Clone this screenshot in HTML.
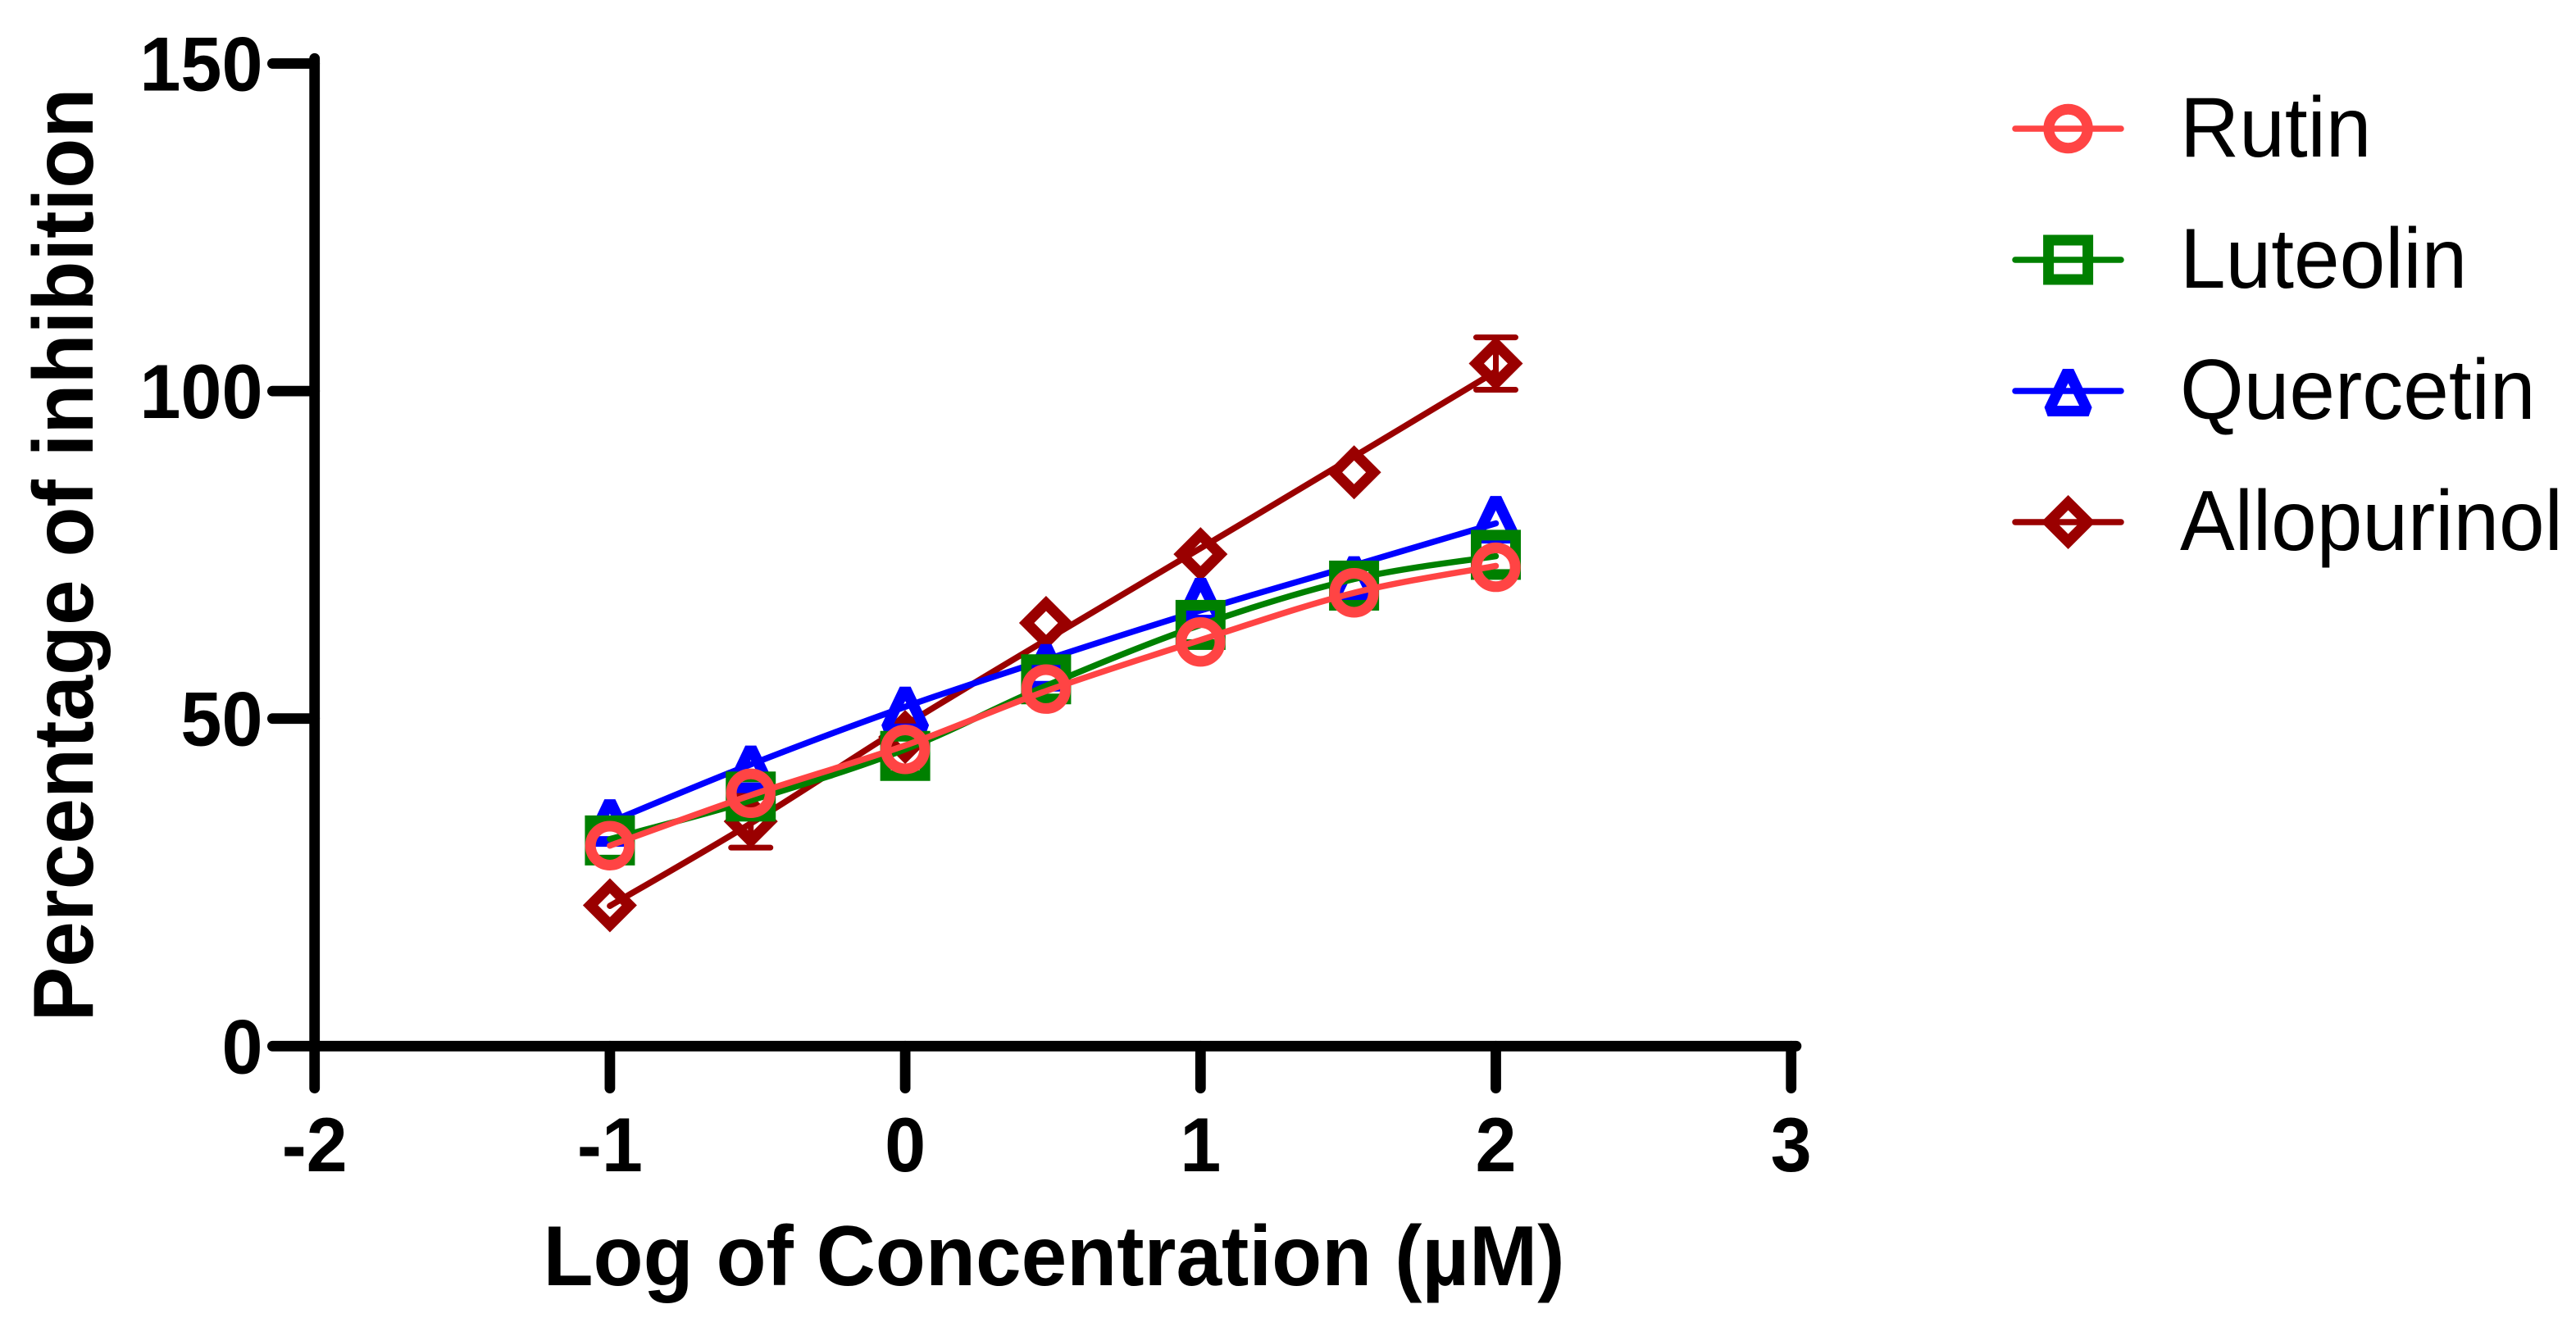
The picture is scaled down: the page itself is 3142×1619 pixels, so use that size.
<!DOCTYPE html>
<html lang="en">
<head>
<meta charset="utf-8">
<title>Percentage of inhibition vs Log of Concentration</title>
<style>
  html, body { margin: 0; padding: 0; background: #ffffff; }
  svg { display: block; font-family: "Liberation Sans", Arial, sans-serif; }
</style>
</head>
<body>
<svg id="chart" xmlns="http://www.w3.org/2000/svg" width="3142" height="1619" viewBox="0 0 3142 1619">
  <rect x="0" y="0" width="3142" height="1619" fill="#ffffff"/>
  <g id="axes"></g>
  <g id="series"></g>
  <text transform="translate(113 677) rotate(-90) scale(1 1.035)" text-anchor="middle" font-size="100" font-weight="700" fill="#000000">Percentage of inhibition</text>
  <text transform="translate(1285.5 1568) scale(1 1.035)" text-anchor="middle" font-size="100" font-weight="700" fill="#000000">Log of Concentration (µM)</text>
  <g id="legend">
    <text transform="translate(2659 191) scale(1 1.035)" font-size="100" fill="#000000">Rutin</text>
    <text transform="translate(2659 351) scale(1 1.035)" font-size="100" fill="#000000">Luteolin</text>
    <text transform="translate(2659 511) scale(1 1.035)" font-size="100" fill="#000000">Quercetin</text>
    <text transform="translate(2659 671) scale(1 1.035)" font-size="100" fill="#000000">Allopurinol</text>
  </g>
</svg>
<script>
// ---- Data ----
const logConcentration = [-1, -0.523, 0, 0.477, 1, 1.52, 2];

const rutinValues       = [30.6, 38.6, 45.3, 54.5, 61.7, 69.2, 73.1];
const luteolinValues    = [31.4, 38.1, 44.3, 56.0, 64.3, 70.3, 75.0];
const quercetinValues   = [34.3, 42.5, 51.5, 58.0, 68.1, 71.4, 80.6];
const allopurinolValues = [21.5, 34.3, 47.2, 64.6, 75.1, 87.6, 104.2];

const rutinCurve       = [30.6, 38.3, 45.9, 54.2, 62.0, 69.2, 73.3];
const luteolinCurve    = [31.6, 37.5, 45.3, 55.0, 64.3, 71.3, 74.8];
const quercetinCurve   = [34.2, 43.0, 51.8, 59.0, 66.5, 73.4, 79.8];
const allopurinolCurve = [21.4, 34.0, 49.0, 62.0, 76.0, 90.0, 103.0];

const allopurinolErrors = [0, 4, 0, 0, 0, 0, 4];

const xTickValues = [-2, -1, 0, 1, 2, 3];
const yTickValues = [0, 50, 100, 150];

// ---- Axis functions ----
const NS = 'http://www.w3.org/2000/svg';
const X_ORIGIN = 383.7, X_UNIT = 360.2, X_MIN = -2;
const Y_ORIGIN = 1276.3, Y_UNIT = 7.992;
const AXIS_WIDTH = 12.8;
function xScale(v) { return X_ORIGIN + (v - X_MIN) * X_UNIT; }
function yScale(v) { return Y_ORIGIN - v * Y_UNIT; }

function make(tag, attrs) {
  const el = document.createElementNS(NS, tag);
  for (const k in attrs) el.setAttribute(k, attrs[k]);
  return el;
}

// ---- Axes ----
const axes = document.getElementById('axes');

const yAxisLine = make('line', { x1: xScale(-2), x2: xScale(-2), y1: yScale(150) - 6.2, y2: yScale(0), stroke: '#000', 'stroke-width': AXIS_WIDTH, 'stroke-linecap': 'round' });


axes.appendChild(yAxisLine);

const xAxisLine = make('line', { x1: xScale(-2), x2: xScale(3) + 6.2, y1: yScale(0), y2: yScale(0), stroke: '#000', 'stroke-width': AXIS_WIDTH, 'stroke-linecap': 'round' });


axes.appendChild(xAxisLine);

yTickValues.forEach(function (v) {
  const y = yScale(v);
  const tick = make('line', { x1: 332.4, x2: xScale(-2), y1: y, y2: y, stroke: '#000', 'stroke-width': AXIS_WIDTH, 'stroke-linecap': 'round' });
  
  
  axes.appendChild(tick);
  const label = make('text', { transform: 'translate(320.5 ' + (y + 33) + ') scale(1 1.04)', 'text-anchor': 'end', 'font-size': 90, 'font-weight': 700, fill: '#000' });
  label.textContent = String(v);
  
  
  axes.appendChild(label);
});

xTickValues.forEach(function (v) {
  const x = xScale(v);
  const tick = make('line', { x1: x, x2: x, y1: Y_ORIGIN, y2: 1327.6, stroke: '#000', 'stroke-width': AXIS_WIDTH, 'stroke-linecap': 'round' });
  
  
  axes.appendChild(tick);
  const label = make('text', { transform: 'translate(' + x + ' 1429) scale(1 1.04)', 'text-anchor': 'middle', 'font-size': 90, 'font-weight': 700, fill: '#000' });
  label.textContent = String(v);
  
  
  axes.appendChild(label);
});

// ---- Marker shapes ----
function drawMarker(shape, color, cx, cy) {
  let el;
  if (shape === 'circle') {
    el = make('circle', { cx: cx, cy: cy, r: 23.7, fill: 'none', stroke: color, 'stroke-width': 13 });
  } else if (shape === 'square') {
    el = make('rect', { x: cx - 24, y: cy - 24, width: 48, height: 48, fill: 'none', stroke: color, 'stroke-width': 13 });
  } else if (shape === 'triangle') {
    const d = 'M-6.6 -27L6.6 -27L29 20L25 31L-25 31L-29 20Z M0 -9.5L-13.5 18L13.5 18Z';
    el = make('path', { d: d, transform: 'translate(' + cx + ' ' + cy + ')', fill: color, 'fill-rule': 'evenodd' });
  } else {
    const d = 'M0 -33L33 0L0 33L-33 0Z M0 -14.5L-14.5 0L0 14.5L14.5 0Z';
    el = make('path', { d: d, transform: 'translate(' + cx + ' ' + cy + ')', fill: color, 'fill-rule': 'evenodd' });
  }
  return el;
}

function curvePath(xs, ys) {
  const pts = xs.map(function (x, i) { return [xScale(x), yScale(ys[i])]; });
  let d = 'M' + pts[0][0] + ' ' + pts[0][1];
  for (let i = 0; i < pts.length - 1; i++) {
    const p0 = pts[Math.max(i - 1, 0)], p1 = pts[i], p2 = pts[i + 1], p3 = pts[Math.min(i + 2, pts.length - 1)];
    const c1x = p1[0] + (p2[0] - p0[0]) / 6, c1y = p1[1] + (p2[1] - p0[1]) / 6;
    const c2x = p2[0] - (p3[0] - p1[0]) / 6, c2y = p2[1] - (p3[1] - p1[1]) / 6;
    d += 'C' + c1x + ' ' + c1y + ' ' + c2x + ' ' + c2y + ' ' + p2[0] + ' ' + p2[1];
  }
  return d;
}

// ---- Series (drawn bottom to top) ----
const seriesLayer = document.getElementById('series');
const legendLayer = document.getElementById('legend');

function drawSeries(key, color, shape, values, curve, errors) {
  const group = make('g', {});
  
  
  seriesLayer.appendChild(group);

  const line = make('path', { d: curvePath(logConcentration, curve), fill: 'none', stroke: color, 'stroke-width': 7.5, 'stroke-linecap': 'round', 'stroke-linejoin': 'round' });
  
  
  group.appendChild(line);

  values.forEach(function (v, i) {
    const cx = xScale(logConcentration[i]);
    const err = errors ? errors[i] : 0;
    if (err > 0) {
      const bar = make('path', {
        d: 'M' + (cx - 24) + ' ' + yScale(v + err) + 'H' + (cx + 24) +
           'M' + cx + ' ' + yScale(v + err) + 'V' + yScale(v - err) +
           'M' + (cx - 24) + ' ' + yScale(v - err) + 'H' + (cx + 24),
        fill: 'none', stroke: color, 'stroke-width': 7, 'stroke-linecap': 'round'
      });
      
      
      group.appendChild(bar);
    }
    const marker = drawMarker(shape, color, cx, yScale(v));
    
    
    group.appendChild(marker);
  });
}

function drawLegendKey(key, color, shape, y) {
  const sample = make('line', { x1: 2458, x2: 2587, y1: y, y2: y, stroke: color, 'stroke-width': 7.5, 'stroke-linecap': 'round' });
  
  
  legendLayer.appendChild(sample);
  const marker = drawMarker(shape, color, 2522.6, y);
  
  
  legendLayer.appendChild(marker);
}

drawSeries('allopurinol', '#9a0000', 'diamond', allopurinolValues, allopurinolCurve, allopurinolErrors);
drawSeries('quercetin', '#0000ff', 'triangle', quercetinValues, quercetinCurve, null);
drawSeries('luteolin', '#008000', 'square', luteolinValues, luteolinCurve, null);
drawSeries('rutin', '#ff4444', 'circle', rutinValues, rutinCurve, null);

drawLegendKey('rutin', '#ff4444', 'circle', 157);
drawLegendKey('luteolin', '#008000', 'square', 317);
drawLegendKey('quercetin', '#0000ff', 'triangle', 477);
drawLegendKey('allopurinol', '#9a0000', 'diamond', 637);
</script>
</body>
</html>
